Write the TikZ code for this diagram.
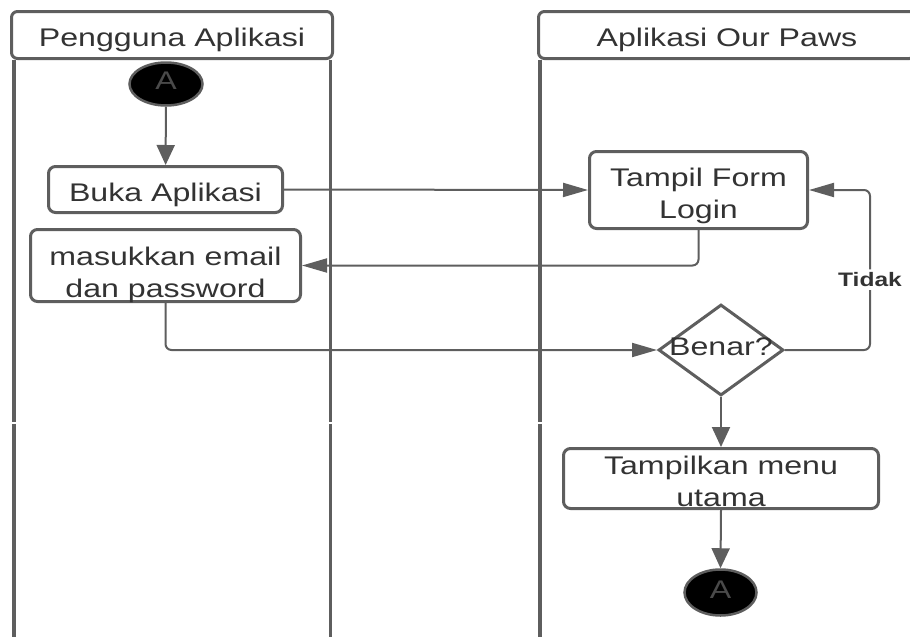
\documentclass[tikz,border=0pt]{standalone}
\usepackage{fontspec}
\setmainfont[FakeStretch=1.26]{Liberation Sans}
\usetikzlibrary{shapes.geometric,arrows.meta}
\definecolor{linegray}{HTML}{5E5E5E}
\definecolor{textgray}{HTML}{333333}
\definecolor{markgray}{HTML}{4A4A4A}
\begin{document}
\begin{tikzpicture}[x=1pt,y=-1pt,
  lbl/.style={font=\fontsize{25.5}{32}\selectfont, text=textgray, align=center, inner sep=0pt},
  lanehead/.style 2 args={draw=linegray, line width=3pt, rounded corners=6pt,
    minimum height=47pt, inner sep=0pt, label={[lbl,yshift=#2]center:#1}},
  act/.style 2 args={draw=linegray, line width=3pt, rounded corners=7pt,
    inner sep=0pt, label={[lbl,yshift=#2]center:#1}},
  decision/.style={diamond, draw=linegray, line width=3pt, inner sep=0pt,
    minimum width=125pt, minimum height=91pt, label={[lbl,yshift=3pt]center:#1}},
  terminal/.style={ellipse, draw=linegray, fill=black, line width=2.5pt, inner sep=0pt,
    label={[lbl,text=markgray,yshift=3pt]center:#1}},
  lane/.style={draw=linegray, line width=3.5pt},
  flowh/.style={draw=linegray, line width=2pt, rounded corners=6pt,
    -{Triangle[length=25pt,width=14pt]}},
  flowv/.style={draw=linegray, line width=2pt,
    -{Triangle[length=20pt,width=18pt]}},
  guard/.style={font=\bfseries\fontsize{19.5}{22}\selectfont, text=textgray,
    fill=white, inner sep=3pt}]
\useasboundingbox (0,0) rectangle (910,637);
\clip (0,0) rectangle (910,637);

% swimlane borders (split where the lane section changes)
\foreach \lx in {14,330.5,540}{
  \draw[lane] (\lx,60) -- (\lx,422.2);
  \draw[lane] (\lx,423.8) -- (\lx,640);
}

% lane headers
\node[lanehead={Pengguna Aplikasi}{-5pt}, minimum width=321pt] (lhead) at (172,35) {};
\node[lanehead={Aplikasi Our Paws}{-5pt}, minimum width=377pt] (rhead) at (727,35) {};

% activities
\node[terminal=A, minimum width=73pt, minimum height=43pt] (start) at (166,84) {};
\node[act={Buka Aplikasi}{-5pt}, minimum width=234pt, minimum height=46pt] (buka) at (165.5,189.5) {};
\node[act={masukkan email\\dan password}{-9pt}, minimum width=270pt, minimum height=72pt] (masuk) at (165.5,265.5) {};
\node[act={Tampil Form\\Login}{-6pt}, minimum width=218pt, minimum height=77pt] (form) at (698.5,190) {};
\node[decision={Benar?}] (benar) at (721,350) {};
\node[act={Tampilkan menu\\utama}{-3pt}, minimum width=315pt, minimum height=60pt] (menu) at (721,478.5) {};
\node[terminal=A, minimum width=72pt, minimum height=46pt] (end) at (720.5,592.5) {};

\coordinate (loopc) at (870,350);

% control flow
\draw[flowv] (start) -- (buka);
\draw[flowh] (buka.east) -- (form.west);
\draw[flowh] (form.south) |- (masuk.east);
\draw[flowh] (masuk.south) |- (benar.west);
\draw[flowh] (benar.east) -- (loopc) |- node[guard, pos=0.22] (tidak) {Tidak} (form.east);
\draw[flowv] (benar.south) -- (menu.north);
\draw[flowv] (menu.south) -- (end.north);
\end{tikzpicture}
\end{document}
